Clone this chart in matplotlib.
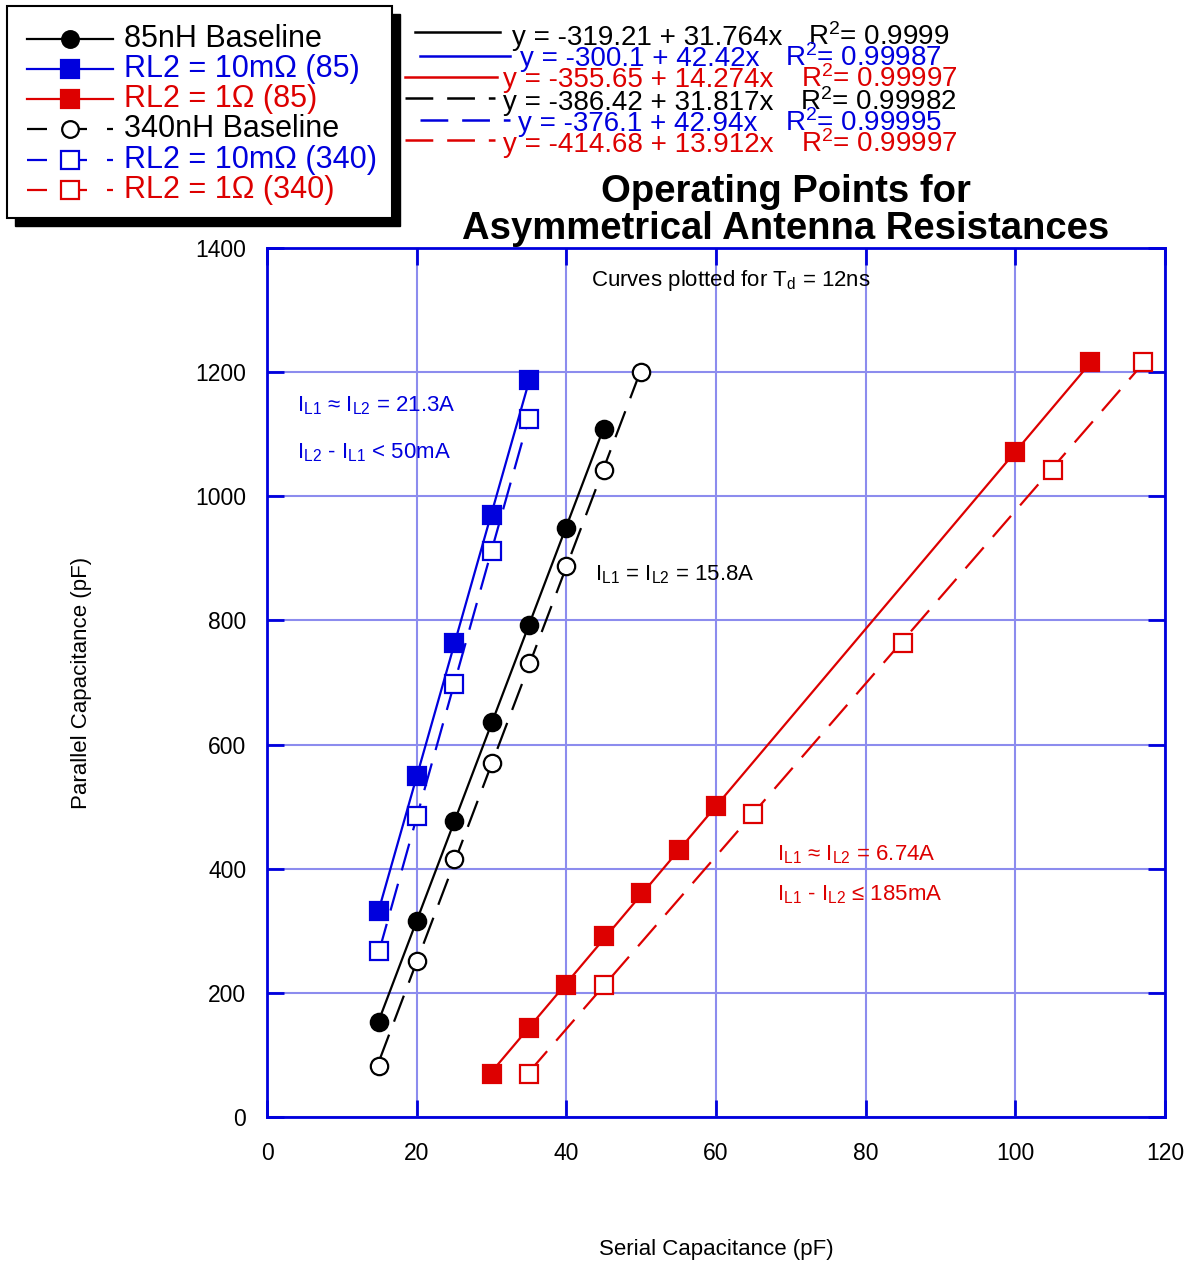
import numpy as np
import matplotlib
matplotlib.use('Agg')
import matplotlib.pyplot as plt
from matplotlib.lines import Line2D
from matplotlib.patches import Rectangle

plt.rcParams['font.family'] = ['Liberation Sans', 'DejaVu Sans']
plt.rcParams['mathtext.fontset'] = 'custom'
plt.rcParams['mathtext.rm'] = 'Liberation Sans'
plt.rcParams['mathtext.it'] = 'Liberation Sans:italic'
plt.rcParams['lines.scale_dashes'] = False

# operating points (serial C, parallel C) in pF
x85 = [15, 20, 25, 30, 35, 40, 45]
y85 = [153, 316, 477, 636, 793, 949, 1108]
x340 = [15, 20, 25, 30, 35, 40, 45, 50]
y340 = [82, 251, 416, 570, 731, 888, 1042, 1200]
xb85 = [15, 20, 25, 30, 35]
yb85 = [332, 549, 764, 970, 1187]
xb340 = [15, 20, 25, 30, 35]
yb340 = [267, 485, 698, 912, 1124]
xr85 = [30, 35, 40, 45, 50, 55, 60, 100, 110]
yr85 = [69, 143, 213, 292, 361, 430, 501, 1071, 1216]
xr340 = [35, 45, 65, 85, 105, 117]
yr340 = [69, 213, 488, 764, 1042, 1216]

# linear fits  y = a + b x
fit_a = [-319.21, -300.1, -355.65, -386.42, -376.1, -414.68]
fit_b = [31.764, 42.42, 14.274, 31.817, 42.94, 13.912]
fit_r2 = ['0.9999', '0.99987', '0.99997', '0.99982', '0.99995', '0.99997']

labels = ['85nH Baseline', 'RL2 = 10m\u03a9 (85)', 'RL2 = 1\u03a9 (85)',
          '340nH Baseline', 'RL2 = 10m\u03a9 (340)', 'RL2 = 1\u03a9 (340)']

BLUE = '#0000DD'
RED = '#DD0000'
GRID = '#8C8CEE'
W, H = 1189, 1265

def fx(px):
    return px / W

def fy(py):
    return 1 - py / H

series = [
    (x85, y85, 'k', 'o', True, '-'),
    (xb85, yb85, BLUE, 's', True, '-'),
    (xr85, yr85, RED, 's', True, '-'),
    (x340, y340, 'k', 'o', False, '--'),
    (xb340, yb340, BLUE, 's', False, '--'),
    (xr340, yr340, RED, 's', False, '--'),
]
DASH = (20, 10)

fig = plt.figure(figsize=(11.89, 12.65), dpi=100)
ax = fig.add_axes([fx(267), fy(1117), (1165 - 267) / W, (1117 - 248) / H])

for i, (xs, ys, c, m, filled, ls) in enumerate(series):
    xs = np.array(xs)
    xx = np.array([xs.min(), xs.max()])
    ln, = ax.plot(xx, fit_a[i] + fit_b[i] * xx, color=c, lw=1.6, zorder=3)
    if ls == '--':
        ln.set_dashes(DASH)
    ms = 12.5 if m == 'o' else 12.5
    ax.plot(xs, ys, ls='none', marker=m, ms=ms, mec=c,
            mfc=c if filled else 'white', mew=1.6, zorder=4)

ax.set_xlim(0, 120)
ax.set_ylim(0, 1400)
ax.set_xticks(np.arange(0, 121, 20))
ax.set_yticks(np.arange(0, 1401, 200))
ax.grid(True, color=GRID, lw=1.5)
ax.set_axisbelow(True)
for s in ax.spines.values():
    s.set_color(BLUE)
    s.set_linewidth(2)
ax.tick_params(direction='in', length=12, width=2, color=BLUE, labelsize=16.5,
               top=True, right=True)
ax.tick_params(axis='x', pad=18)
ax.tick_params(axis='y', pad=15)

fig.text(fx(716), fy(1249), 'Serial Capacitance (pF)', fontsize=16,
         ha='center', va='center')
fig.text(fx(82), fy(683), 'Parallel Capacitance (pF)', fontsize=16,
         ha='center', va='center', rotation=90)

fig.text(fx(786), fy(192), 'Operating Points for', fontsize=27.5,
         fontweight='bold', ha='center', va='center')
fig.text(fx(786), fy(229), 'Asymmetrical Antenna Resistances', fontsize=27.5,
         fontweight='bold', ha='center', va='center')

# annotations
sub = lambda s: r'$_\mathregular{' + s + '}$'
ax.text(43.3, 1348, 'Curves plotted for T' + sub('d') + ' = 12ns', fontsize=16,
        va='center')
ax.text(4.0, 1146, 'I' + sub('L1') + ' \u2248 I' + sub('L2') + ' = 21.3A',
        fontsize=16, color=BLUE, va='center')
ax.text(4.0, 1070, 'I' + sub('L2') + ' - I' + sub('L1') + ' < 50mA',
        fontsize=16, color=BLUE, va='center')
ax.text(43.8, 873, 'I' + sub('L1') + ' = I' + sub('L2') + ' = 15.8A',
        fontsize=16, va='center')
ax.text(68.2, 422, 'I' + sub('L1') + ' \u2248 I' + sub('L2') + ' = 6.74A',
        fontsize=16, color=RED, va='center')
ax.text(68.2, 358, 'I' + sub('L1') + ' - I' + sub('L2') + ' \u2264 185mA',
        fontsize=16, color=RED, va='center')

# legend box (drawn by hand, with black drop shadow)
fig.patches.append(Rectangle((fx(15), fy(226)), (392 - 7) / W, (218 - 6) / H,
                             transform=fig.transFigure, fc='black', ec='black',
                             zorder=1))
fig.patches.append(Rectangle((fx(7), fy(218)), (392 - 7) / W, (218 - 6) / H,
                             transform=fig.transFigure, fc='white', ec='black',
                             lw=1.5, zorder=2))
leg_y = [39, 69, 99, 129, 160, 190]
for i, (xs, ys, c, m, filled, ls) in enumerate(series):
    yy = fy(leg_y[i])
    ln = Line2D([fx(27), fx(113)], [yy, yy], color=c, lw=1.6,
                transform=fig.transFigure, zorder=3)
    if ls == '--':
        ln.set_dashes((14.4, 14.4))
    fig.lines.append(ln)
    fig.lines.append(Line2D([fx(70)], [yy], ls='none', marker=m,
                            ms=12 if m == 'o' else 12.5, mec=c,
                            mfc=c if filled else 'white', mew=1.6,
                            transform=fig.transFigure, zorder=4))
    fig.text(fx(124), yy, labels[i], color=c, fontsize=22, va='center',
             zorder=5)

# fit equations
eq_line = [(415, 500, 32), (420, 510, 56), (405, 497, 77),
           (405, 495, 98), (420, 510, 120), (405, 495, 140)]
eq_text = [(512, 808, 45), (520, 785, 66), (503, 801, 87),
           (503, 800, 110), (518, 785, 131), (503, 801, 152)]
for i, (xs, ys, c, m, filled, ls) in enumerate(series):
    x0, x1, ly = eq_line[i]
    ln = Line2D([fx(x0), fx(x1)], [fy(ly), fy(ly)], color=c, lw=1.8,
                transform=fig.transFigure)
    if ls == '--':
        ln.set_dashes((20, 10))
    fig.lines.append(ln)
    tx, rx, by = eq_text[i]
    fig.text(fx(tx), fy(by), 'y = %g + %gx' % (fit_a[i], fit_b[i]),
             color=c, fontsize=20, va='baseline')
    fig.text(fx(rx), fy(by), r'R$^\mathregular{2}$= ' + fit_r2[i],
             color=c, fontsize=20, va='baseline')

fig.savefig('out.png', dpi=100)
